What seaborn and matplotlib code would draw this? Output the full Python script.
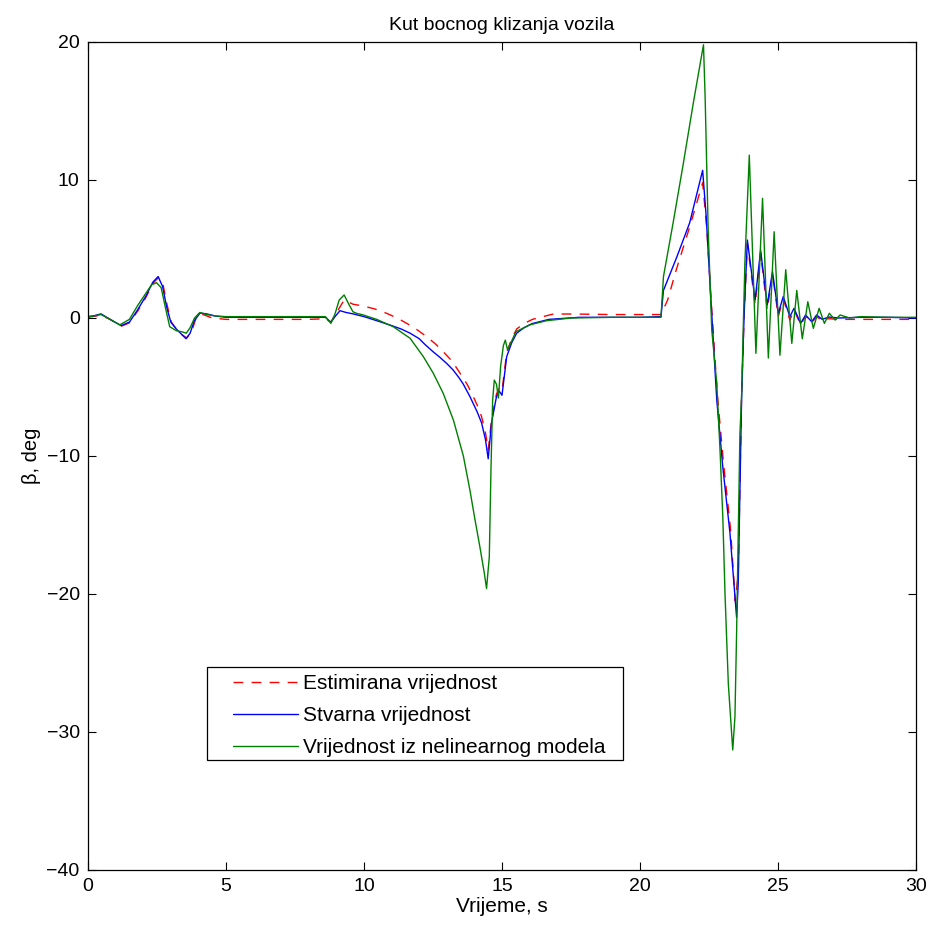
import numpy as np
import pandas as pd
import matplotlib
matplotlib.use("Agg")
import matplotlib.pyplot as plt
import matplotlib.patches as mpatches
import seaborn as sns

# ---------------- data ----------------
t_est = [0, 0.47, 0.8, 1.2, 1.5, 1.8, 2.1, 2.35, 2.56, 2.72, 2.87, 3.02, 3.2, 3.4, 3.58, 3.75, 3.9, 4.1, 4.5,
         5, 6, 7, 8, 8.6, 8.8, 8.95, 9.28, 9.6, 9.97, 10.4, 10.82, 11.2, 11.55, 11.9, 12.27, 12.6, 12.87, 13.2,
         13.48, 13.75, 13.96, 14.12, 14.26, 14.4, 14.5, 14.62, 14.8, 14.9, 15.0, 15.17, 15.35, 15.53, 15.8, 16.1,
         16.86, 17.58, 19, 20, 20.76, 21.0, 21.33, 21.8, 22.27, 22.42, 22.57, 22.8, 23.02, 23.28, 23.45, 23.56,
         23.68, 23.77, 23.89, 24.17, 24.37, 24.61, 24.8, 25.01, 25.19, 25.43, 25.58, 25.82, 26.0, 26.22, 26.4,
         26.6, 26.84, 27.2, 28, 29, 30]
v_est = [0.05, 0.2, -0.1, -0.6, -0.35, 0.5, 1.5, 2.5, 2.95, 2.4, 0.9, -0.3, -0.8, -1.2, -1.45, -1.0, -0.1, 0.3, 0.0,
         -0.1, -0.1, -0.1, -0.1, -0.05, -0.3, 0.2, 1.3, 1.0, 0.87, 0.65, 0.34, 0.0, -0.39, -0.82, -1.35, -1.9, -2.44,
         -3.15, -4.0, -4.85, -5.7, -6.4, -7.15, -8.3, -9.57, -7.4, -5.5, -5.1, -5.3, -2.5, -1.5, -0.8, -0.4, -0.1,
         0.29, 0.29, 0.25, 0.25, 0.25, 1.3, 3.6, 6.6, 9.8, 6.5, 1.5, -5.5, -10.4, -15.3, -20.5, -18.5,
         -5.6, 0.1, 5.4, 1.0, 4.7, 0.6, 3.2, 0.1, 1.4, -0.15, 0.6, -0.5, 0.15, -0.35, 0.1,
         -0.2, -0.05, -0.1, -0.1, -0.1, -0.1]

t_real = [0, 0.2, 0.47, 0.8, 1.2, 1.5, 1.8, 2.1, 2.35, 2.54, 2.7, 2.85, 3.0, 3.2, 3.4, 3.55, 3.7, 3.85, 4.06, 4.3,
          4.6, 5.0, 6.0, 7.0, 8.0, 8.6, 8.8, 8.95, 9.13, 9.35, 9.6, 10.0, 10.47, 11.0, 11.35, 11.67, 12.0, 12.2,
          12.5, 12.75, 13.0, 13.23, 13.45, 13.6, 13.84, 14.1, 14.26, 14.4, 14.5, 14.62, 14.8, 14.9, 15.0, 15.17,
          15.35, 15.53, 15.8, 16.1, 16.7, 17.8, 19.0, 20.0, 20.76, 20.85, 21.33, 21.8, 22.27, 22.4, 22.55, 22.78,
          23.0, 23.26, 23.5, 23.56, 23.68, 23.77, 23.89, 24.17, 24.37, 24.61, 24.8, 25.01, 25.19, 25.43, 25.58,
          25.82, 26.0, 26.22, 26.4, 26.6, 26.84, 27.2, 28.0, 29.0, 30.0]
v_real = [0.1, 0.15, 0.3, -0.1, -0.55, -0.3, 0.6, 1.6, 2.6, 3.0, 2.3, 0.8, -0.3, -0.8, -1.2, -1.5, -1.1, -0.2, 0.36, 0.3,
          0.15, 0.05, 0.05, 0.05, 0.05, 0.05, -0.3, 0.1, 0.53, 0.4, 0.3, 0.1, -0.2, -0.55, -0.8, -1.1, -1.5, -1.9,
          -2.44, -2.85, -3.3, -3.77, -4.35, -4.8, -5.7, -6.8, -7.6, -8.8, -10.2, -7.6, -5.7, -5.3, -5.6, -2.8,
          -1.8, -1.1, -0.7, -0.4, -0.1, 0.05, 0.05, 0.05, 0.1, 2.0, 4.4, 6.9, 10.7, 7.3, 2.0, -5.9,
          -10.8, -15.6, -21.7, -19.2, -5.9, 0.1, 5.65, 1.3, 4.9, 0.94, 3.36, 0.34, 1.55, 0.1, 0.7,
          -0.39, 0.22, -0.27, 0.22, -0.1, 0.07, 0.0, 0.05, 0.05, 0.0]

t_model = [0, 0.2, 0.47, 0.8, 1.15, 1.5, 1.81, 2.1, 2.3, 2.48, 2.65, 2.8, 2.96, 3.2, 3.4, 3.56, 3.7, 3.86, 4.05, 4.3,
           4.6, 5, 6, 7, 8, 8.6, 8.8, 8.95, 9.1, 9.28, 9.45, 9.6, 9.73, 9.97, 10.46, 11.06, 11.67, 12.15, 12.51,
           12.87, 13.24, 13.6, 13.84, 14.02, 14.2, 14.36, 14.44, 14.54, 14.6, 14.66, 14.72, 14.8, 14.87, 14.95,
           15.05, 15.12, 15.2, 15.3, 15.5, 16, 16.6, 17.5, 19, 20, 20.76, 20.85, 21.2, 21.57, 21.93, 22.3, 22.36,
           22.47, 22.6, 22.78, 22.9, 23.0, 23.08, 23.2, 23.36, 23.44, 23.5, 23.56, 23.62, 23.68, 23.8, 23.96, 24.2,
           24.44, 24.65, 24.86, 25.07, 25.28, 25.5, 25.68, 25.88, 26.08, 26.28, 26.49, 26.68, 26.86, 27.07, 27.25,
           27.6, 28, 29, 30]
v_model = [0.1, 0.15, 0.25, -0.1, -0.5, -0.1, 0.94, 1.8, 2.4, 2.56, 2.2, 0.8, -0.63, -0.92, -1.0, -1.1, -0.7, 0.0, 0.4, 0.25,
           0.15, 0.1, 0.1, 0.1, 0.1, 0.1, -0.39, 0.3, 1.3, 1.67, 1.0, 0.45, 0.34, 0.22, -0.1, -0.63, -1.47, -2.8, -4.0,
           -5.46, -7.4, -10.0, -12.5, -14.6, -16.6, -18.5, -19.6, -17.3, -11.0, -6.0, -4.5, -4.8, -5.8, -3.5,
           -2.0, -1.6, -2.3, -1.9, -1.0, -0.5, -0.2, 0.0, 0.05, 0.05, 0.05, 3.0, 6.9, 11.2, 15.56, 19.8, 16.0,
           6.4, -0.87, -4.7, -9.6, -14.4, -20.0, -26.5, -31.3, -28.9, -22.8, -15.6, -8.4, -5.7, 4.0, 11.8, -2.56,
           8.67, -2.9, 6.25, -2.7, 3.5, -1.84, 2.0, -1.5, 1.18, -0.75, 0.7, -0.39, 0.34, -0.15, 0.22,
           0.0, 0.1, 0.05, 0.05]

labels = ["Estimirana vrijednost", "Stvarna vrijednost", "Vrijednost iz nelinearnog modela"]
x_ticks = [0, 5, 10, 15, 20, 25, 30]
y_ticks = [-40, -30, -20, -10, 0, 10, 20]

# ---------------- style ----------------
sns.set_theme(style="white")
plt.rcParams["font.family"] = ["Liberation Sans", "DejaVu Sans"]
plt.rcParams.update({
    "xtick.direction": "in", "ytick.direction": "in",
    "xtick.top": True, "ytick.right": True,
    "xtick.bottom": True, "ytick.left": True,
    "xtick.major.size": 6, "ytick.major.size": 6,
    "xtick.major.width": 0.8, "ytick.major.width": 0.8,
    "axes.edgecolor": "black", "axes.linewidth": 0.9,
    "text.color": "black", "axes.labelcolor": "black",
    "xtick.color": "black", "ytick.color": "black",
})

fig = plt.figure(figsize=(9.32, 9.31), dpi=100)
ax = fig.add_axes([88 / 932, 61 / 931, 828 / 932, 828 / 931])

df_est = pd.DataFrame({"t": t_est, "v": v_est})
df_real = pd.DataFrame({"t": t_real, "v": v_real})
df_model = pd.DataFrame({"t": t_model, "v": v_model})

sns.lineplot(data=df_est, x="t", y="v", ax=ax, color=(1, 0, 0), lw=1.0,
             estimator=None, sort=False, label=labels[0])
ax.lines[-1].set_dashes((7, 6))
sns.lineplot(data=df_real, x="t", y="v", ax=ax, color=(0, 0, 1), lw=1.0,
             estimator=None, sort=False, label=labels[1])
sns.lineplot(data=df_model, x="t", y="v", ax=ax, color=(0, 0.5, 0), lw=1.0,
             estimator=None, sort=False, label=labels[2])

ax.set_xlim(0, 30)
ax.set_ylim(-40, 20)
ax.set_xticks(x_ticks)
ax.set_yticks(y_ticks)
ax.tick_params(labelsize=14, pad=6)
ax.set_xlabel("Vrijeme, s", fontsize=15, labelpad=1)
ax.set_ylabel("β, deg", fontsize=14.5, labelpad=4)
ax.set_title("Kut bocnog klizanja vozila", fontsize=14, pad=9)
for s in ax.spines.values():
    s.set_visible(True)
    s.set_color("black")

leg = ax.legend(loc="upper left", bbox_to_anchor=((233 - 88) / 828, (870 - 674) / 828), fontsize=15,
                frameon=False, handlelength=3.1, borderpad=0, labelspacing=0.62,
                handletextpad=0.25, borderaxespad=0)
leg.get_lines()[0].set_dashes((7, 6))
ax.add_patch(mpatches.Rectangle(((207 - 88) / 828, (870 - 760) / 828), 416 / 828, 93 / 828,
                                transform=ax.transAxes, fill=True, facecolor="white",
                                edgecolor="black", lw=0.9, zorder=4))
leg.set_zorder(5)

fig.savefig("out.png", dpi=100)
